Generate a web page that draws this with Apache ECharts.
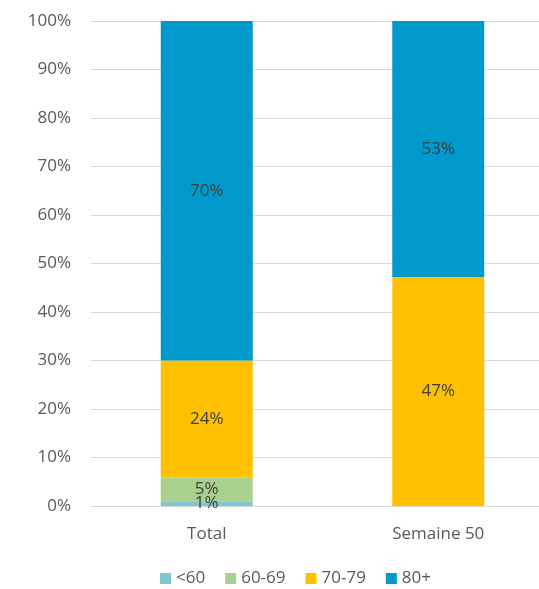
<!DOCTYPE html>
<html>
<head>
<meta charset="utf-8">
<script src="https://cdn.jsdelivr.net/npm/echarts@6/dist/echarts.min.js"></script>
<style>
    html, body { margin: 0; padding: 0; background: #fff; overflow: hidden; }
    /* le cadre du graphique dépasse à droite, comme dans l'original */
    #chart { width: 554px; height: 589px; }
</style>
</head>
<body>
<div id="chart"></div>
<script>
    // catégories et valeurs (% par tranche d'âge)
    const categories = ['Total', 'Semaine 50'];
    const seriesNames = ['<60', '60-69', '70-79', '80+'];
    const valsUnder60 = [1.0, 0];
    const vals60to69 = [4.9, 0];
    const vals70to79 = [24.1, 47.2];
    const vals80plus = [70.0, 52.8];
    const yTicks = [0, 10, 20, 30, 40, 50, 60, 70, 80, 90, 100];

    const colors = ['#80c6cf', '#a9d18e', '#ffc000', '#0099cc'];
    const font = '"Open Sans", sans-serif';

    const chart = echarts.init(document.getElementById('chart'));
    const makeSeries = (name, data) => ({
        name: name,
        type: 'bar',
        stack: 'total',
        barWidth: 92,
        data: data,
        label: {
            show: true,
            position: 'inside',
            color: '#404040',
            fontFamily: font,
            fontSize: 17,
            formatter: (p) => p.value > 0 ? Math.round(p.value) + '%' : ''
        }
    });

    chart.setOption({
        animation: false,
        color: colors,
        grid: {
            top: 21,
            left: 91,
            right: 0,
            bottom: 83
        },
        xAxis: {
            type: 'category',
            data: categories,
            axisLine: { lineStyle: { color: '#d9d9d9', width: 1 } },
            axisTick: { show: false },
            axisLabel: {
                color: '#595959',
                fontFamily: font,
                fontSize: 17,
                margin: 20
            }
        },
        yAxis: {
            type: 'value',
            min: yTicks[0],
            max: yTicks[yTicks.length - 1],
            interval: 10,
            axisLine: { show: false },
            axisTick: { show: false },
            splitLine: { lineStyle: { color: '#d9d9d9', width: 1 } },
            axisLabel: {
                color: '#595959',
                fontFamily: font,
                fontSize: 17,
                margin: 20,
                formatter: '{value}%'
            }
        },
        legend: {
            bottom: -3,
            left: 155,
            icon: 'rect',
            itemWidth: 11,
            itemHeight: 11,
            itemGap: 20,
            textStyle: {
                color: '#595959',
                fontFamily: font,
                fontSize: 17
            },
            data: seriesNames
        },
        series: [
            makeSeries(seriesNames[0], valsUnder60),
            makeSeries(seriesNames[1], vals60to69),
            makeSeries(seriesNames[2], vals70to79),
            makeSeries(seriesNames[3], vals80plus)
        ]
    });
</script>
</body>
</html>
